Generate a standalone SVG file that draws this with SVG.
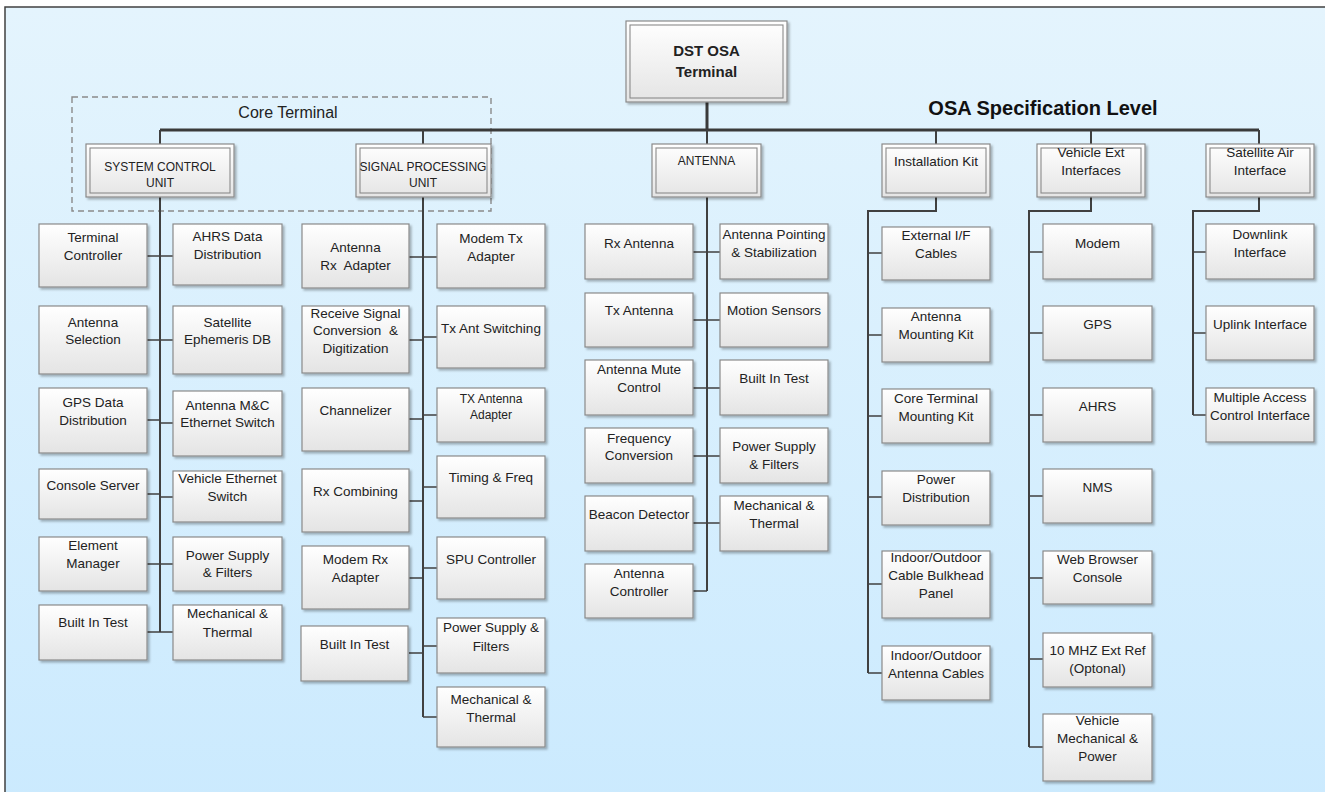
<svg xmlns="http://www.w3.org/2000/svg" width="1325" height="792" viewBox="0 0 1325 792">
<defs>
<linearGradient id="bg" x1="0" y1="0" x2="0" y2="1"><stop offset="0" stop-color="#e4f4fd"/><stop offset="1" stop-color="#cbeafe"/></linearGradient>
<linearGradient id="bx" x1="0" y1="0" x2="0" y2="1"><stop offset="0" stop-color="#ffffff"/><stop offset="1" stop-color="#e4e4e4"/></linearGradient>
<filter id="sh" x="-10%" y="-10%" width="125%" height="130%"><feDropShadow dx="2" dy="2" stdDeviation="1.2" flood-color="#000" flood-opacity="0.28"/></filter>
</defs>
<style>
.b{fill:url(#bx);stroke:#8a8a8a;stroke-width:1.2;filter:url(#sh)}
.in{fill:none;stroke:#8a8a8a;stroke-width:1.1}
text{font-family:"Liberation Sans",Arial,sans-serif;font-size:13.5px;fill:#222;text-anchor:middle}
.h{font-size:12px}
.bold{font-weight:bold;font-size:15px}
.ln{fill:none;stroke:#404040;stroke-width:2}
.st{fill:none;stroke:#404040;stroke-width:1.5}
.bus{fill:none;stroke:#3a3a3a;stroke-width:3}
</style>
<rect x="0" y="0" width="1325" height="792" fill="#ffffff"/>
<rect x="5" y="7" width="1330" height="800" fill="url(#bg)" stroke="#404040" stroke-width="1.5"/>

<g id="core-terminal">
<rect x="72" y="97" width="419" height="114" fill="none" stroke="#8a8a8a" stroke-width="1.4" stroke-dasharray="6,4"/>
<text x="288" y="118" style="font-size:16px">Core Terminal</text>
</g>
<text id="osa-level" x="1043" y="115" style="font-size:20px;font-weight:bold;fill:#111">OSA Specification Level</text>

<g id="connectors">
<path class="bus" d="M707,102 V130 M160,130 H1259"/>
<path class="ln" d="M160,130 V144 M423,130 V144 M707,130 V144 M936,130 V144 M1091,130 V144 M1259,130 V144"/>
<path class="ln" d="M160,197 V632 M423,197 V717 M707,197 V591 M936,197 V211 H868 V673 M1091,197 V211 H1029 V747 M1259,197 V211 H1193 V415"/>
<path class="st" d="M147,256 H173 M147,340 H173 M147,420 H160 M160,423 H173 M147,494 H160 M160,497 H173 M147,564 H173 M147,632 H173"/>
<path class="st" d="M409,257 H437 M409,340 H423 M423,337 H437 M409,419 H423 M423,415 H437 M409,501 H423 M423,487 H437 M409,578 H423 M423,568 H437 M409,653 H423 M423,646 H437 M423,717 H437"/>
<path class="st" d="M693,252 H720 M693,320 H720 M693,388 H720 M693,456 H720 M693,523 H720 M693,591 H707"/>
<path class="st" d="M868,253 H882 M868,335 H882 M868,416 H882 M868,497 H882 M868,584 H882 M868,673 H882"/>
<path class="st" d="M1029,252 H1043 M1029,333 H1043 M1029,415 H1043 M1029,496 H1043 M1029,578 H1043 M1029,659 H1043 M1029,747 H1043"/>
<path class="st" d="M1193,252 H1206 M1193,333 H1206 M1193,415 H1206"/>
</g>

<g id="dst-osa-terminal"><rect class="b" x="626" y="21" width="161" height="81"/><rect class="in" x="630" y="25" width="153" height="73"/><text class="bold" x="706.5" y="56">DST OSA</text><text class="bold" x="706.5" y="77">Terminal</text></g>

<g id="scu"><rect class="b" x="86" y="144" width="148" height="53"/><rect class="in" x="90" y="148" width="140" height="45"/><text class="h" x="160" y="171">SYSTEM CONTROL</text><text class="h" x="160" y="187">UNIT</text></g>
<g id="spu"><rect class="b" x="356" y="144" width="135" height="53"/><rect class="in" x="360" y="148" width="127" height="45"/><text class="h" x="423" y="171">SIGNAL PROCESSING</text><text class="h" x="423" y="187">UNIT</text></g>
<g id="antenna"><rect class="b" x="652" y="144" width="109" height="53"/><rect class="in" x="656" y="148" width="101" height="45"/><text class="h" x="706.5" y="165">ANTENNA</text></g>
<g id="installation-kit"><rect class="b" x="882" y="144" width="108" height="53"/><rect class="in" x="886" y="148" width="100" height="45"/><text x="936" y="166">Installation Kit</text></g>
<g id="vehicle-ext"><rect class="b" x="1037" y="144" width="108" height="53"/><rect class="in" x="1041" y="148" width="100" height="45"/><text x="1091" y="157">Vehicle Ext</text><text x="1091" y="175">Interfaces</text></g>
<g id="satellite-air"><rect class="b" x="1206" y="144" width="108" height="53"/><rect class="in" x="1210" y="148" width="100" height="45"/><text x="1260" y="157">Satellite Air</text><text x="1260" y="175">Interface</text></g>

<!-- SCU children -->
<g id="terminal-controller"><rect class="b" x="39" y="224" width="108" height="63"/><text x="93" y="242">Terminal</text><text x="93" y="260">Controller</text></g>
<g id="antenna-selection"><rect class="b" x="39" y="306" width="108" height="68"/><text x="93" y="327">Antenna</text><text x="93" y="344">Selection</text></g>
<g id="gps-data"><rect class="b" x="39" y="388" width="108" height="65"/><text x="93" y="407">GPS Data</text><text x="93" y="425">Distribution</text></g>
<g id="console-server"><rect class="b" x="39" y="469" width="108" height="50"/><text x="93" y="490">Console Server</text></g>
<g id="element-manager"><rect class="b" x="39" y="537" width="108" height="54"/><text x="93" y="550">Element</text><text x="93" y="568">Manager</text></g>
<g id="scu-bit"><rect class="b" x="39" y="605" width="108" height="55"/><text x="93" y="627">Built In Test</text></g>
<g id="ahrs-data"><rect class="b" x="173" y="224" width="109" height="61"/><text x="227.5" y="241">AHRS Data</text><text x="227.5" y="259">Distribution</text></g>
<g id="sat-ephemeris"><rect class="b" x="173" y="306" width="109" height="68"/><text x="227.5" y="327">Satellite</text><text x="227.5" y="344">Ephemeris DB</text></g>
<g id="antenna-mc"><rect class="b" x="173" y="391" width="109" height="65"/><text x="227.5" y="410">Antenna M&amp;C</text><text x="227.5" y="427">Ethernet Switch</text></g>
<g id="vehicle-ethernet"><rect class="b" x="173" y="471" width="109" height="51"/><text x="227.5" y="483">Vehicle Ethernet</text><text x="227.5" y="501">Switch</text></g>
<g id="scu-power"><rect class="b" x="173" y="537" width="109" height="54"/><text x="227.5" y="560">Power Supply</text><text x="227.5" y="577">&amp; Filters</text></g>
<g id="scu-mech"><rect class="b" x="173" y="605" width="109" height="55"/><text x="227.5" y="618">Mechanical &amp;</text><text x="227.5" y="637">Thermal</text></g>

<!-- SPU children -->
<g id="antenna-rx-adapter"><rect class="b" x="302" y="224" width="107" height="64"/><text x="355.5" y="252">Antenna</text><text x="355.5" y="270" xml:space="preserve">Rx  Adapter</text></g>
<g id="receive-signal"><rect class="b" x="302" y="306" width="107" height="67"/><text x="355.5" y="318">Receive Signal</text><text x="355.5" y="335" xml:space="preserve">Conversion  &amp;</text><text x="355.5" y="353">Digitization</text></g>
<g id="channelizer"><rect class="b" x="302" y="388" width="107" height="63"/><text x="355.5" y="415">Channelizer</text></g>
<g id="rx-combining"><rect class="b" x="302" y="469" width="107" height="63"/><text x="355.5" y="496">Rx Combining</text></g>
<g id="modem-rx"><rect class="b" x="302" y="546" width="107" height="63"/><text x="355.5" y="564">Modem Rx</text><text x="355.5" y="582">Adapter</text></g>
<g id="spu-bit"><rect class="b" x="301" y="626" width="107" height="55"/><text x="354.5" y="649">Built In Test</text></g>
<g id="modem-tx"><rect class="b" x="437" y="224" width="108" height="64"/><text x="491" y="243">Modem Tx</text><text x="491" y="261">Adapter</text></g>
<g id="tx-ant-switching"><rect class="b" x="437" y="306" width="108" height="62"/><text x="491" y="333">Tx Ant Switching</text></g>
<g id="tx-antenna-adapter"><rect class="b" x="437" y="388" width="108" height="54"/><text class="h" x="491" y="403">TX Antenna</text><text class="h" x="491" y="419">Adapter</text></g>
<g id="timing-freq"><rect class="b" x="437" y="456" width="108" height="62"/><text x="491" y="482">Timing &amp; Freq</text></g>
<g id="spu-controller"><rect class="b" x="437" y="537" width="108" height="62"/><text x="491" y="564">SPU Controller</text></g>
<g id="spu-power"><rect class="b" x="437" y="618" width="108" height="55"/><text x="491" y="632">Power Supply &amp;</text><text x="491" y="651">Filters</text></g>
<g id="spu-mech"><rect class="b" x="437" y="687" width="108" height="60"/><text x="491" y="704">Mechanical &amp;</text><text x="491" y="722">Thermal</text></g>

<!-- ANTENNA children -->
<g id="rx-antenna"><rect class="b" x="585" y="224" width="108" height="55"/><text x="639" y="248">Rx Antenna</text></g>
<g id="tx-antenna"><rect class="b" x="585" y="293" width="108" height="54"/><text x="639" y="315">Tx Antenna</text></g>
<g id="antenna-mute"><rect class="b" x="585" y="360" width="108" height="55"/><text x="639" y="374">Antenna Mute</text><text x="639" y="392">Control</text></g>
<g id="freq-conversion"><rect class="b" x="585" y="428" width="108" height="55"/><text x="639" y="443">Frequency</text><text x="639" y="460">Conversion</text></g>
<g id="beacon-detector"><rect class="b" x="585" y="496" width="108" height="55"/><text x="639" y="519">Beacon Detector</text></g>
<g id="antenna-controller"><rect class="b" x="585" y="564" width="108" height="54"/><text x="639" y="578">Antenna</text><text x="639" y="596">Controller</text></g>
<g id="antenna-pointing"><rect class="b" x="720" y="224" width="108" height="55"/><text x="774" y="239">Antenna Pointing</text><text x="774" y="257">&amp; Stabilization</text></g>
<g id="motion-sensors"><rect class="b" x="720" y="293" width="108" height="54"/><text x="774" y="315">Motion Sensors</text></g>
<g id="ant-bit"><rect class="b" x="720" y="360" width="108" height="55"/><text x="774" y="383">Built In Test</text></g>
<g id="ant-power"><rect class="b" x="720" y="428" width="108" height="55"/><text x="774" y="451">Power Supply</text><text x="774" y="469">&amp; Filters</text></g>
<g id="ant-mech"><rect class="b" x="720" y="496" width="108" height="55"/><text x="774" y="510">Mechanical &amp;</text><text x="774" y="528">Thermal</text></g>

<!-- Installation kit children -->
<g id="ext-if-cables"><rect class="b" x="882" y="227" width="108" height="53"/><text x="936" y="240">External I/F</text><text x="936" y="258">Cables</text></g>
<g id="antenna-mounting"><rect class="b" x="882" y="308" width="108" height="54"/><text x="936" y="321">Antenna</text><text x="936" y="339">Mounting Kit</text></g>
<g id="core-mounting"><rect class="b" x="882" y="389" width="108" height="54"/><text x="936" y="403">Core Terminal</text><text x="936" y="421">Mounting Kit</text></g>
<g id="power-distribution"><rect class="b" x="882" y="471" width="108" height="54"/><text x="936" y="484">Power</text><text x="936" y="502">Distribution</text></g>
<g id="bulkhead-panel"><rect class="b" x="882" y="551" width="108" height="67"/><text x="936" y="562">Indoor/Outdoor</text><text x="936" y="580">Cable Bulkhead</text><text x="936" y="598">Panel</text></g>
<g id="antenna-cables"><rect class="b" x="882" y="646" width="108" height="54"/><text x="936" y="660">Indoor/Outdoor</text><text x="936" y="678">Antenna Cables</text></g>

<!-- Vehicle ext children -->
<g id="modem"><rect class="b" x="1043" y="224" width="109" height="55"/><text x="1097.5" y="248">Modem</text></g>
<g id="gps"><rect class="b" x="1043" y="306" width="109" height="54"/><text x="1097.5" y="329">GPS</text></g>
<g id="ahrs"><rect class="b" x="1043" y="388" width="109" height="54"/><text x="1097.5" y="411">AHRS</text></g>
<g id="nms"><rect class="b" x="1043" y="469" width="109" height="54"/><text x="1097.5" y="492">NMS</text></g>
<g id="web-browser"><rect class="b" x="1043" y="551" width="109" height="53"/><text x="1097.5" y="564">Web Browser</text><text x="1097.5" y="582">Console</text></g>
<g id="ext-ref"><rect class="b" x="1043" y="633" width="109" height="54"/><text x="1097.5" y="655">10 MHZ Ext Ref</text><text x="1097.5" y="673">(Optonal)</text></g>
<g id="vehicle-mech"><rect class="b" x="1043" y="714" width="109" height="67"/><text x="1097.5" y="725">Vehicle</text><text x="1097.5" y="743">Mechanical &amp;</text><text x="1097.5" y="761">Power</text></g>

<!-- Satellite air children -->
<g id="downlink"><rect class="b" x="1206" y="224" width="108" height="55"/><text x="1260" y="239">Downlink</text><text x="1260" y="257">Interface</text></g>
<g id="uplink"><rect class="b" x="1206" y="306" width="108" height="54"/><text x="1260" y="329">Uplink Interface</text></g>
<g id="mac-interface"><rect class="b" x="1206" y="388" width="108" height="54"/><text x="1260" y="402">Multiple Access</text><text x="1260" y="420">Control Interface</text></g>
</svg>
